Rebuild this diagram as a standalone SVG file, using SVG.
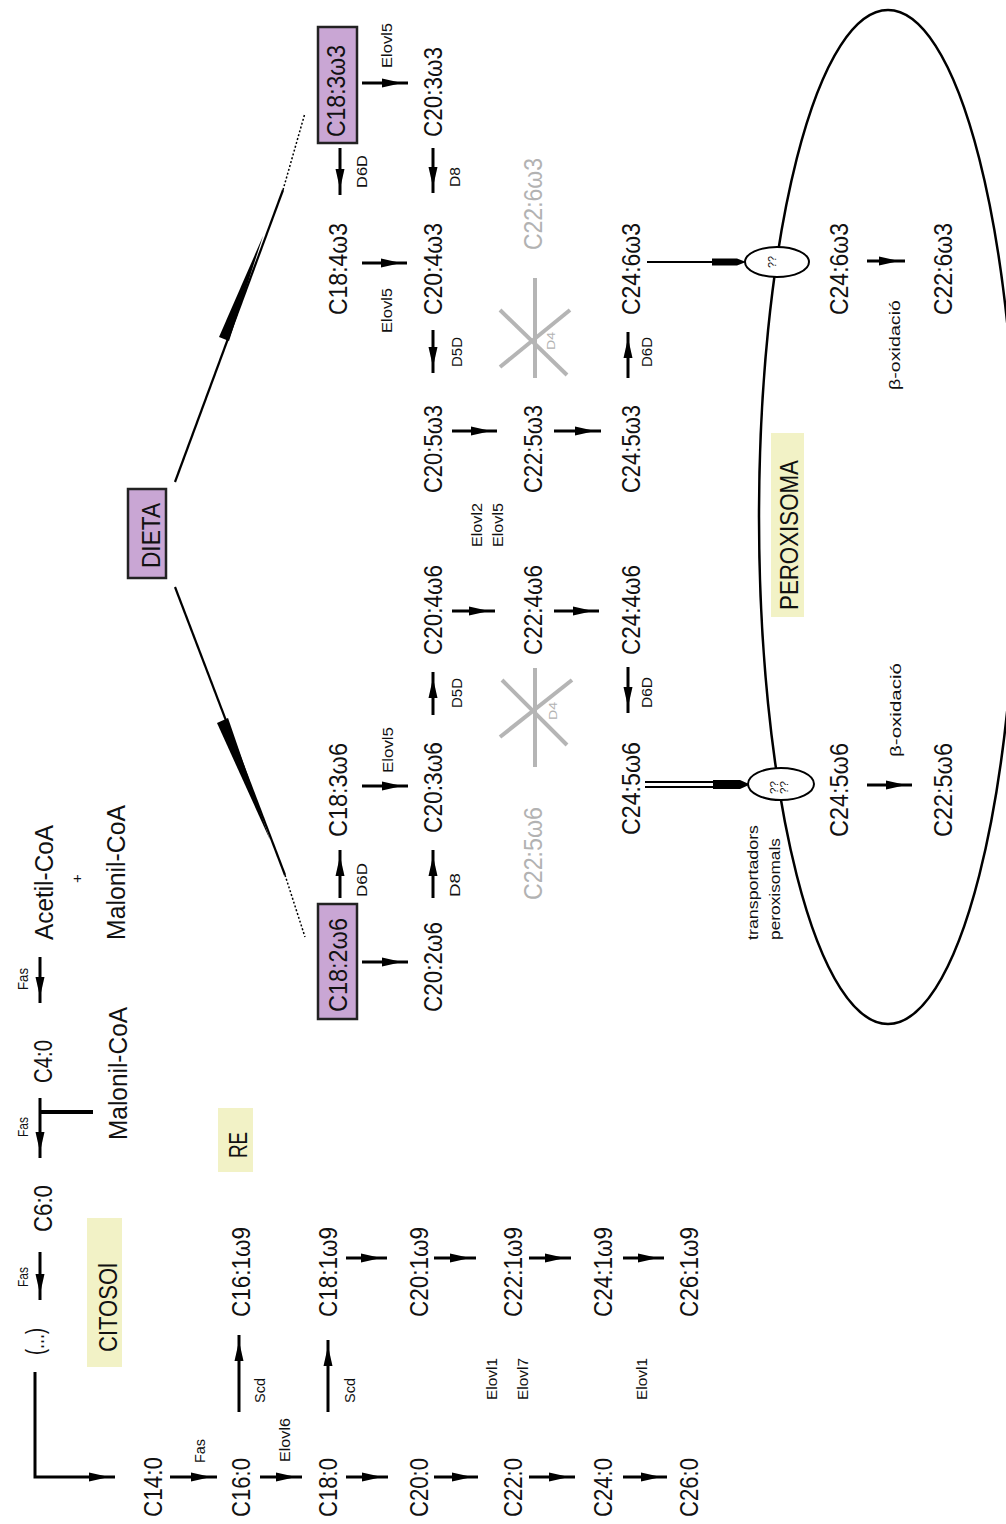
<svg xmlns="http://www.w3.org/2000/svg" width="1006" height="1524" viewBox="0 0 1006 1524">
<style>
text{font-family:"Liberation Sans",Arial,sans-serif;fill:#111}
.t{font-size:26px}
.s{font-size:15px}
.xs{font-size:11px}
.g{fill:#b2b2b2}
.ar{stroke:#000;stroke-width:3;fill:none;marker-end:url(#ah)}
.ln{stroke:#000;stroke-width:2.2;fill:none}
.star{stroke:#b5b5b5;stroke-width:4;fill:none}
.pur{fill:#c9a6d4;stroke:#222;stroke-width:2.5}
.yel{fill:#f2f2c6}
</style>
<defs>
<marker id="ah" markerUnits="userSpaceOnUse" markerWidth="30" markerHeight="12" refX="28" refY="6" orient="auto" overflow="visible">
<path d="M2,1.5 L22,6 L2,10.5 Z" fill="#000"/>
</marker>
</defs>
<rect width="1006" height="1524" fill="#fff"/>

<g id="peroxisome-membrane">
<ellipse cx="888" cy="517" rx="129" ry="507" fill="none" stroke="#000" stroke-width="2.5"/>
</g>

<g id="connectors">
<path class="ar" d="M35,1372 V1477 H115"/>
<line class="ar" x1="40" y1="957" x2="40" y2="1003"/>
<line class="ar" x1="40" y1="1098" x2="40" y2="1158"/>
<line x1="40" y1="1112" x2="93" y2="1112" stroke="#000" stroke-width="4"/>
<line class="ar" x1="40" y1="1252" x2="40" y2="1300"/>
<line class="ar" x1="170" y1="1477" x2="217" y2="1477"/>
<line class="ar" x1="260" y1="1477" x2="302" y2="1477"/>
<line class="ar" x1="346" y1="1477" x2="388" y2="1477"/>
<line class="ar" x1="434" y1="1477" x2="478" y2="1477"/>
<line class="ar" x1="529" y1="1477" x2="575" y2="1477"/>
<line class="ar" x1="623" y1="1477" x2="667" y2="1477"/>
<line class="ar" x1="346" y1="1258" x2="387" y2="1258"/>
<line class="ar" x1="434" y1="1258" x2="476" y2="1258"/>
<line class="ar" x1="529" y1="1258" x2="571" y2="1258"/>
<line class="ar" x1="623" y1="1258" x2="664" y2="1258"/>
<line class="ar" x1="239" y1="1412" x2="239" y2="1335"/>
<line class="ar" x1="328" y1="1412" x2="328" y2="1340"/>
<line class="ar" x1="362" y1="83" x2="408" y2="83"/>
<line class="ar" x1="340" y1="148" x2="340" y2="195"/>
<line class="ar" x1="433" y1="148" x2="433" y2="193"/>
<line class="ar" x1="362" y1="263" x2="407" y2="263"/>
<line class="ar" x1="433" y1="330" x2="433" y2="373"/>
<line class="ar" x1="628" y1="378" x2="628" y2="332"/>
<line class="ar" x1="452" y1="431" x2="497" y2="431"/>
<line class="ar" x1="554" y1="431" x2="601" y2="431"/>
<line class="ar" x1="452" y1="611" x2="495" y2="611"/>
<line class="ar" x1="554" y1="611" x2="599" y2="611"/>
<line class="ar" x1="433" y1="715" x2="433" y2="672"/>
<line class="ar" x1="628" y1="667" x2="628" y2="713"/>
<line class="ar" x1="362" y1="786" x2="408" y2="786"/>
<line class="ar" x1="340" y1="898" x2="340" y2="850"/>
<line class="ar" x1="433" y1="898" x2="433" y2="850"/>
<line class="ar" x1="362" y1="962" x2="408" y2="962"/>
<line class="ar" x1="867" y1="261" x2="905" y2="261"/>
<line class="ar" x1="867" y1="785" x2="912" y2="785"/>
<line class="ln" x1="175" y1="482" x2="283" y2="190" stroke-width="2.5"/>
<polygon points="219,337 229,341 263,236" fill="#000"/>
<line x1="283" y1="190" x2="305" y2="113" stroke="#000" stroke-width="1.5" stroke-dasharray="2,2"/>
<line class="ln" x1="175" y1="587" x2="285" y2="875" stroke-width="2.5"/>
<polygon points="217,723 228,718 270,840" fill="#000"/>
<line x1="285" y1="875" x2="305" y2="937" stroke="#000" stroke-width="1.5" stroke-dasharray="2,2"/>
<line class="ln" x1="647" y1="262" x2="712" y2="262"/>
<polygon points="712,258.5 737,258.5 746,262 737,265.5 712,265.5" fill="#000"/>
<line class="ln" x1="645" y1="782" x2="713" y2="782" stroke-width="1.8"/>
<line class="ln" x1="645" y1="787" x2="713" y2="787" stroke-width="1.8"/>
<polygon points="713,780 740,780 750,784.5 740,789 713,789" fill="#000"/>
</g>

<g id="stars">
<g id="star-w3" class="star">
<line x1="535" y1="278" x2="535" y2="378"/>
<line x1="500" y1="310" x2="567" y2="375"/>
<line x1="570" y1="310" x2="500" y2="367"/>
</g>
<text class="xs g" transform="translate(555,350) rotate(-90)" textLength="18" lengthAdjust="spacingAndGlyphs">D4</text>
<g id="star-w6" class="star">
<line x1="535" y1="668" x2="535" y2="767"/>
<line x1="502" y1="680" x2="567" y2="745"/>
<line x1="572" y1="680" x2="500" y2="737"/>
</g>
<text class="xs g" transform="translate(557,720) rotate(-90)" textLength="18" lengthAdjust="spacingAndGlyphs">D4</text>
</g>

<g id="transporter-w3">
<ellipse cx="777" cy="262" rx="32" ry="15" fill="#fff" stroke="#000" stroke-width="2"/>
<text class="xs" transform="translate(776,268) rotate(-90)" textLength="12" lengthAdjust="spacingAndGlyphs">??</text>
</g>
<g id="transporter-w6">
<ellipse cx="781" cy="784" rx="33" ry="16" fill="#fff" stroke="#000" stroke-width="2"/>
<text class="xs" transform="translate(778,794) rotate(-90)" textLength="13" lengthAdjust="spacingAndGlyphs">??</text>
<text class="xs" transform="translate(788,794) rotate(-90)" textLength="13" lengthAdjust="spacingAndGlyphs">??</text>
</g>

<g id="compartments">
<g id="citosol"><rect class="yel" x="87" y="1218" width="35" height="149"/>
<text class="t" transform="translate(117,1352) rotate(-90)" textLength="89" lengthAdjust="spacingAndGlyphs">CITOSOl</text></g>
<g id="re"><rect class="yel" x="218" y="1108" width="35" height="64"/>
<text class="t" transform="translate(247,1158) rotate(-90)" textLength="26" lengthAdjust="spacingAndGlyphs">RE</text></g>
<g id="peroxisoma"><rect class="yel" x="771" y="433" width="33" height="184"/>
<text class="t" transform="translate(798,610) rotate(-90)" textLength="150" lengthAdjust="spacingAndGlyphs">PEROXISOMA</text></g>
<g id="dieta"><rect class="pur" x="128" y="489" width="38" height="89"/>
<text class="t" transform="translate(160,568) rotate(-90)" textLength="65" lengthAdjust="spacingAndGlyphs">DIETA</text></g>
</g>

<g id="nodes-synthesis">
<g id="acetil"><text class="t" transform="translate(53,940) rotate(-90)" textLength="115" lengthAdjust="spacingAndGlyphs">Acetil-CoA</text></g>
<g id="plus"><text class="s" transform="translate(82,883) rotate(-90)">+</text></g>
<g id="malonil1"><text class="t" transform="translate(125,940) rotate(-90)" textLength="135" lengthAdjust="spacingAndGlyphs">Malonil-CoA</text></g>
<g id="malonil2"><text class="t" transform="translate(127,1140) rotate(-90)" textLength="133" lengthAdjust="spacingAndGlyphs">Malonil-CoA</text></g>
<g id="c4"><text class="t" transform="translate(52,1083) rotate(-90)" textLength="43" lengthAdjust="spacingAndGlyphs">C4:0</text></g>
<g id="c6"><text class="t" transform="translate(52,1232) rotate(-90)" textLength="47" lengthAdjust="spacingAndGlyphs">C6:0</text></g>
<g id="etc"><text class="t" transform="translate(44,1355) rotate(-90)" textLength="27" lengthAdjust="spacingAndGlyphs">(...)</text></g>
<g id="c14"><text class="t" transform="translate(162,1517) rotate(-90)" textLength="60" lengthAdjust="spacingAndGlyphs">C14:0</text></g>
<g id="c16"><text class="t" transform="translate(250,1517) rotate(-90)" textLength="59" lengthAdjust="spacingAndGlyphs">C16:0</text></g>
<g id="c18"><text class="t" transform="translate(337,1517) rotate(-90)" textLength="59" lengthAdjust="spacingAndGlyphs">C18:0</text></g>
<g id="c20"><text class="t" transform="translate(428,1517) rotate(-90)" textLength="59" lengthAdjust="spacingAndGlyphs">C20:0</text></g>
<g id="c22"><text class="t" transform="translate(522,1517) rotate(-90)" textLength="59" lengthAdjust="spacingAndGlyphs">C22:0</text></g>
<g id="c24"><text class="t" transform="translate(612,1517) rotate(-90)" textLength="59" lengthAdjust="spacingAndGlyphs">C24:0</text></g>
<g id="c26"><text class="t" transform="translate(698,1517) rotate(-90)" textLength="59" lengthAdjust="spacingAndGlyphs">C26:0</text></g>
<g id="c16-1"><text class="t" transform="translate(250,1317) rotate(-90)" textLength="90" lengthAdjust="spacingAndGlyphs">C16:1ω9</text></g>
<g id="c18-1"><text class="t" transform="translate(337,1317) rotate(-90)" textLength="90" lengthAdjust="spacingAndGlyphs">C18:1ω9</text></g>
<g id="c20-1"><text class="t" transform="translate(428,1317) rotate(-90)" textLength="90" lengthAdjust="spacingAndGlyphs">C20:1ω9</text></g>
<g id="c22-1"><text class="t" transform="translate(522,1317) rotate(-90)" textLength="90" lengthAdjust="spacingAndGlyphs">C22:1ω9</text></g>
<g id="c24-1"><text class="t" transform="translate(612,1317) rotate(-90)" textLength="90" lengthAdjust="spacingAndGlyphs">C24:1ω9</text></g>
<g id="c26-1"><text class="t" transform="translate(698,1317) rotate(-90)" textLength="90" lengthAdjust="spacingAndGlyphs">C26:1ω9</text></g>
</g>

<g id="nodes-w3">
<g id="c18-3w3"><rect class="pur" x="318" y="27" width="39" height="116"/>
<text class="t" transform="translate(345,137) rotate(-90)" textLength="92" lengthAdjust="spacingAndGlyphs">C18:3ω3</text></g>
<g id="c20-3w3"><text class="t" transform="translate(442,137) rotate(-90)" textLength="90" lengthAdjust="spacingAndGlyphs">C20:3ω3</text></g>
<g id="c18-4w3"><text class="t" transform="translate(347,315) rotate(-90)" textLength="92" lengthAdjust="spacingAndGlyphs">C18:4ω3</text></g>
<g id="c20-4w3"><text class="t" transform="translate(442,315) rotate(-90)" textLength="92" lengthAdjust="spacingAndGlyphs">C20:4ω3</text></g>
<g id="c22-6w3"><text class="t g" transform="translate(542,250) rotate(-90)" textLength="92" lengthAdjust="spacingAndGlyphs">C22:6ω3</text></g>
<g id="c24-6w3"><text class="t" transform="translate(640,315) rotate(-90)" textLength="92" lengthAdjust="spacingAndGlyphs">C24:6ω3</text></g>
<g id="c20-5w3"><text class="t" transform="translate(442,493) rotate(-90)" textLength="88" lengthAdjust="spacingAndGlyphs">C20:5ω3</text></g>
<g id="c22-5w3"><text class="t" transform="translate(542,493) rotate(-90)" textLength="88" lengthAdjust="spacingAndGlyphs">C22:5ω3</text></g>
<g id="c24-5w3"><text class="t" transform="translate(640,493) rotate(-90)" textLength="88" lengthAdjust="spacingAndGlyphs">C24:5ω3</text></g>
<g id="p-c24-6w3"><text class="t" transform="translate(848,315) rotate(-90)" textLength="92" lengthAdjust="spacingAndGlyphs">C24:6ω3</text></g>
<g id="p-c22-6w3"><text class="t" transform="translate(952,315) rotate(-90)" textLength="92" lengthAdjust="spacingAndGlyphs">C22:6ω3</text></g>
</g>

<g id="nodes-w6">
<g id="c18-2w6"><rect class="pur" x="318" y="904" width="39" height="115"/>
<text class="t" transform="translate(347,1012) rotate(-90)" textLength="94" lengthAdjust="spacingAndGlyphs">C18:2ω6</text></g>
<g id="c20-2w6"><text class="t" transform="translate(442,1012) rotate(-90)" textLength="90" lengthAdjust="spacingAndGlyphs">C20:2ω6</text></g>
<g id="c18-3w6"><text class="t" transform="translate(347,837) rotate(-90)" textLength="94" lengthAdjust="spacingAndGlyphs">C18:3ω6</text></g>
<g id="c20-3w6"><text class="t" transform="translate(442,833) rotate(-90)" textLength="91" lengthAdjust="spacingAndGlyphs">C20:3ω6</text></g>
<g id="c20-4w6"><text class="t" transform="translate(442,655) rotate(-90)" textLength="90" lengthAdjust="spacingAndGlyphs">C20:4ω6</text></g>
<g id="c22-4w6"><text class="t" transform="translate(542,655) rotate(-90)" textLength="90" lengthAdjust="spacingAndGlyphs">C22:4ω6</text></g>
<g id="c24-4w6"><text class="t" transform="translate(640,655) rotate(-90)" textLength="90" lengthAdjust="spacingAndGlyphs">C24:4ω6</text></g>
<g id="c22-5w6"><text class="t g" transform="translate(542,900) rotate(-90)" textLength="93" lengthAdjust="spacingAndGlyphs">C22:5ω6</text></g>
<g id="c24-5w6"><text class="t" transform="translate(640,835) rotate(-90)" textLength="93" lengthAdjust="spacingAndGlyphs">C24:5ω6</text></g>
<g id="p-c24-5w6"><text class="t" transform="translate(848,837) rotate(-90)" textLength="94" lengthAdjust="spacingAndGlyphs">C24:5ω6</text></g>
<g id="p-c22-5w6"><text class="t" transform="translate(952,837) rotate(-90)" textLength="94" lengthAdjust="spacingAndGlyphs">C22:5ω6</text></g>
</g>

<g id="enzyme-labels">
<text class="s" transform="translate(28,990) rotate(-90)" textLength="22" lengthAdjust="spacingAndGlyphs">Fas</text>
<text class="s" transform="translate(28,1137) rotate(-90)" textLength="20" lengthAdjust="spacingAndGlyphs">Fas</text>
<text class="s" transform="translate(28,1287) rotate(-90)" textLength="20" lengthAdjust="spacingAndGlyphs">Fas</text>
<text class="s" transform="translate(205,1463) rotate(-90)" textLength="24" lengthAdjust="spacingAndGlyphs">Fas</text>
<text class="s" transform="translate(265,1403) rotate(-90)" textLength="25" lengthAdjust="spacingAndGlyphs">Scd</text>
<text class="s" transform="translate(355,1403) rotate(-90)" textLength="25" lengthAdjust="spacingAndGlyphs">Scd</text>
<text class="s" transform="translate(290,1462) rotate(-90)" textLength="44" lengthAdjust="spacingAndGlyphs">Elovl6</text>
<text class="s" transform="translate(497,1400) rotate(-90)" textLength="42" lengthAdjust="spacingAndGlyphs">Elovl1</text>
<text class="s" transform="translate(528,1400) rotate(-90)" textLength="42" lengthAdjust="spacingAndGlyphs">Elovl7</text>
<text class="s" transform="translate(647,1400) rotate(-90)" textLength="42" lengthAdjust="spacingAndGlyphs">Elovl1</text>
<text class="s" transform="translate(392,68) rotate(-90)" textLength="45" lengthAdjust="spacingAndGlyphs">Elovl5</text>
<text class="s" transform="translate(367,188) rotate(-90)" textLength="33" lengthAdjust="spacingAndGlyphs">D6D</text>
<text class="s" transform="translate(460,187) rotate(-90)" textLength="20" lengthAdjust="spacingAndGlyphs">D8</text>
<text class="s" transform="translate(392,333) rotate(-90)" textLength="45" lengthAdjust="spacingAndGlyphs">Elovl5</text>
<text class="s" transform="translate(462,367) rotate(-90)" textLength="30" lengthAdjust="spacingAndGlyphs">D5D</text>
<text class="s" transform="translate(652,367) rotate(-90)" textLength="30" lengthAdjust="spacingAndGlyphs">D6D</text>
<text class="s" transform="translate(482,547) rotate(-90)" textLength="44" lengthAdjust="spacingAndGlyphs">Elovl2</text>
<text class="s" transform="translate(503,547) rotate(-90)" textLength="44" lengthAdjust="spacingAndGlyphs">Elovl5</text>
<text class="s" transform="translate(462,708) rotate(-90)" textLength="30" lengthAdjust="spacingAndGlyphs">D5D</text>
<text class="s" transform="translate(652,708) rotate(-90)" textLength="31" lengthAdjust="spacingAndGlyphs">D6D</text>
<text class="s" transform="translate(393,773) rotate(-90)" textLength="46" lengthAdjust="spacingAndGlyphs">Elovl5</text>
<text class="s" transform="translate(367,897) rotate(-90)" textLength="34" lengthAdjust="spacingAndGlyphs">D6D</text>
<text class="s" transform="translate(460,897) rotate(-90)" textLength="24" lengthAdjust="spacingAndGlyphs">D8</text>
<text class="s" transform="translate(900,390) rotate(-90)" textLength="90" lengthAdjust="spacingAndGlyphs">β-oxidació</text>
<text class="s" transform="translate(901,757) rotate(-90)" textLength="94" lengthAdjust="spacingAndGlyphs">β-oxidació</text>
<text class="s" transform="translate(758,940) rotate(-90)" textLength="115" lengthAdjust="spacingAndGlyphs">transportadors</text>
<text class="s" transform="translate(780,940) rotate(-90)" textLength="102" lengthAdjust="spacingAndGlyphs">peroxisomals</text>
</g>
</svg>
